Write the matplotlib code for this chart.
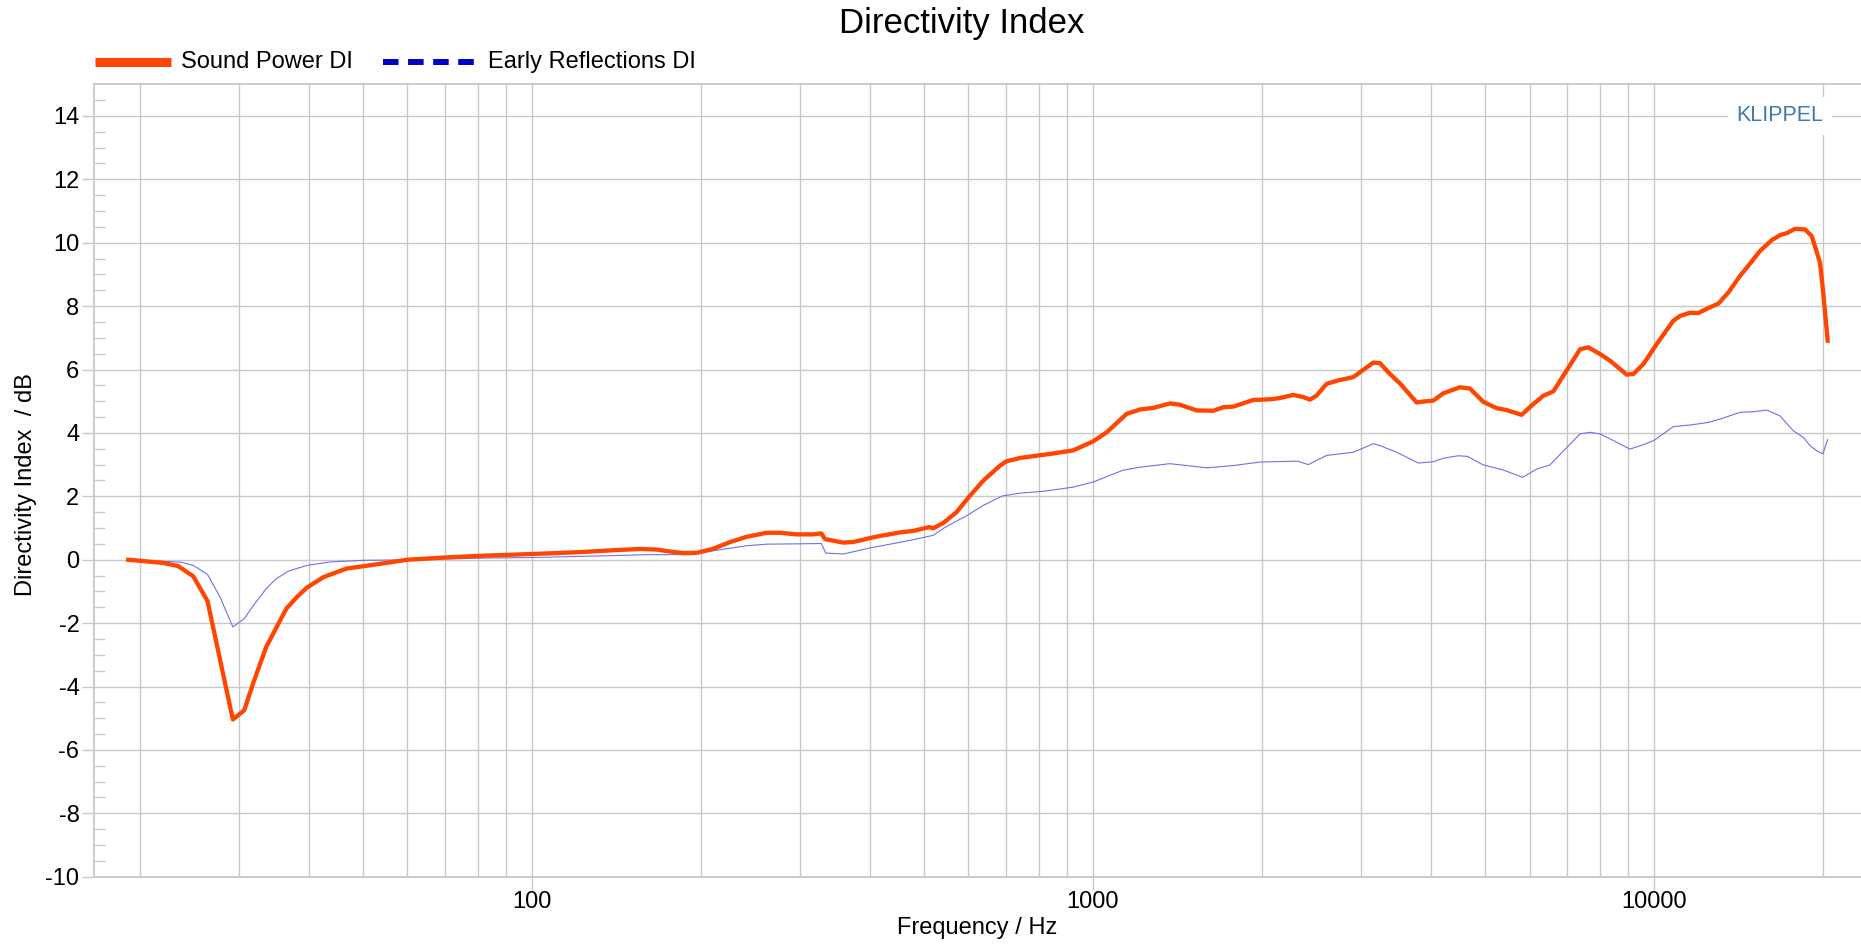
import matplotlib
matplotlib.use('Agg')
import matplotlib.pyplot as plt
from matplotlib.lines import Line2D
from matplotlib.ticker import FixedLocator, NullFormatter

plt.rcParams['font.family'] = ['Liberation Sans', 'DejaVu Sans']
plt.rcParams['axes.unicode_minus'] = False

# Sound Power DI
sp_freq = [19.07, 22.0, 23.4, 24.9, 26.4, 29.3, 30.7, 31.9, 33.6, 36.5, 38.1, 39.7, 42.5, 46.7,
           53.6, 60, 70, 80, 100, 122, 140, 156, 167, 176, 186, 197, 210, 225, 241, 262, 277,
           296, 317, 328, 333, 359, 374, 400, 417, 453, 478, 511, 519, 541, 571, 603, 638, 683,
           700, 741, 800, 849, 922, 1000, 1058, 1148, 1213, 1281, 1372, 1429, 1530, 1639, 1707,
           1779, 1931, 2068, 2154, 2275, 2371, 2437, 2504, 2609, 2756, 2911, 3033, 3161, 3248,
           3383, 3526, 3776, 3880, 4043, 4211, 4510, 4699, 4964, 5244, 5463, 5808, 6093, 6349,
           6615, 6890, 7383, 7638, 8012, 8349, 8940, 9190, 9573, 10110, 10827, 11125, 11593,
           11995, 12500, 13025, 13570, 14230, 14725, 15450, 16210, 16770, 17240, 17840, 18590,
           19110, 19770, 20040, 20400]
sp_db = [0.0, -0.1, -0.2, -0.52, -1.30, -5.04, -4.75, -3.86, -2.75, -1.54, -1.18, -0.88, -0.55, -0.28,
         -0.13, 0.0, 0.07, 0.12, 0.18, 0.24, 0.30, 0.34, 0.32, 0.26, 0.21, 0.22, 0.34, 0.55, 0.72, 0.85, 0.85,
         0.80, 0.80, 0.83, 0.65, 0.54, 0.56, 0.68, 0.75, 0.86, 0.91, 1.03, 0.99, 1.16, 1.50, 2.01, 2.50, 2.97,
         3.10, 3.21, 3.29, 3.35, 3.45, 3.73, 4.02, 4.60, 4.74, 4.79, 4.93, 4.89, 4.71, 4.70, 4.81,
         4.83, 5.04, 5.06, 5.10, 5.20, 5.13, 5.05, 5.18, 5.55, 5.67, 5.76, 5.99, 6.22, 6.20,
         5.86, 5.56, 4.96, 4.99, 5.02, 5.25, 5.44, 5.40, 4.98, 4.78, 4.72, 4.57, 4.91, 5.17,
         5.31, 5.80, 6.64, 6.70, 6.49, 6.28, 5.84, 5.86, 6.17, 6.80, 7.54, 7.69, 7.79,
         7.78, 7.94, 8.08, 8.43, 8.95, 9.27, 9.74, 10.08, 10.24, 10.30, 10.44, 10.42,
         10.21, 9.37, 8.38, 6.91]

# Early Reflections DI
er_freq = [19.07, 22.0, 23.7, 24.9, 26.4, 27.8, 29.3, 30.7, 31.9, 33.6, 35.0, 36.8, 39.7, 43.7,
           49.9, 61.4, 80.8, 100, 140, 160, 193, 210, 241, 262, 328, 334, 359, 400, 453, 478,
           519, 546, 597, 637, 689, 741, 817, 922, 1000, 1130, 1213, 1372, 1595, 1779, 1980,
           2317, 2420, 2609, 2911, 3161, 3248, 3478, 3802, 4043, 4211, 4479, 4650, 4964, 5388,
           5834, 6180, 6525, 7000, 7383, 7690, 8012, 8463, 9062, 9573, 10000, 10827, 11593,
           12500, 13290, 14230, 15030, 15880, 16770, 17710, 18460, 18970, 19500, 20000, 20400]
er_db = [-0.05, -0.05, -0.08, -0.18, -0.46, -1.18, -2.12, -1.86, -1.44, -0.91, -0.60, -0.36, -0.18, -0.07,
         -0.02, 0.0, 0.05, 0.07, 0.13, 0.16, 0.16, 0.28, 0.44, 0.49, 0.51, 0.21, 0.18, 0.37, 0.55, 0.63,
         0.77, 1.03, 1.40, 1.71, 2.01, 2.10, 2.16, 2.29, 2.45, 2.82, 2.92, 3.03, 2.90, 2.97, 3.08,
         3.11, 3.00, 3.29, 3.39, 3.66, 3.60, 3.39, 3.05, 3.09, 3.20, 3.28, 3.26, 2.99, 2.83,
         2.60, 2.86, 2.99, 3.55, 3.97, 4.02, 3.97, 3.76, 3.49, 3.63, 3.76, 4.20, 4.25,
         4.33, 4.47, 4.65, 4.67, 4.72, 4.54, 4.07, 3.86, 3.60, 3.44, 3.34, 3.79]

major_x = [100, 1000, 10000]
minor_x = [20, 30, 40, 50, 60, 70, 80, 90, 200, 300, 400, 500, 600, 700, 800, 900,
           2000, 3000, 4000, 5000, 6000, 7000, 8000, 9000, 20000]
y_ticks = list(range(-10, 15, 2))

grid_c = '#c8c8c8'
red = '#ff4500'

fig = plt.figure(figsize=(18.61, 9.52), dpi=100)
ax = fig.add_axes([0.0505, 0.0791, 0.9495, 0.8324])

ax.plot(er_freq, er_db, color='#7070e8', lw=0.8, zorder=3)
ax.plot(sp_freq, sp_db, color=red, lw=3.1, solid_joinstyle='round', zorder=4)

ax.set_xscale('log')
ax.set_xlim(16.57, 23390)
ax.set_ylim(-10, 15)

ax.xaxis.set_major_locator(FixedLocator(major_x))
ax.set_xticklabels([str(v) for v in major_x])
ax.xaxis.set_minor_locator(FixedLocator(minor_x))
ax.xaxis.set_minor_formatter(NullFormatter())
ax.set_yticks(y_ticks)
ax.yaxis.set_minor_locator(FixedLocator([v / 2 for v in range(-19, 30) if v % 4 != 0]))

ax.grid(True, which='major', color=grid_c, lw=1.0, zorder=0)
ax.grid(True, which='minor', axis='x', color=grid_c, lw=1.0, zorder=0)
ax.set_axisbelow(True)

ax.tick_params(axis='both', which='major', labelsize=17, length=9, width=1.0,
               color=grid_c, direction='out', pad=1.5)
ax.tick_params(axis='x', which='minor', length=0)
ax.tick_params(axis='y', which='minor', length=8, width=1.0, color=grid_c, direction='in')

for side in ['left', 'top', 'bottom']:
    ax.spines[side].set_color(grid_c)
    ax.spines[side].set_linewidth(1.3)
ax.spines['right'].set_visible(False)

ax.set_xlabel('Frequency / Hz', fontsize=17, labelpad=3)
ax.set_ylabel('Directivity Index  / dB', fontsize=17, va='center')
ax.yaxis.set_label_coords(-0.0385, 0.495)

ax.text(16770, 14, 'KLIPPEL', color='#3c7dab', fontsize=15.5, ha='center', va='center',
        bbox=dict(facecolor='white', edgecolor='none', pad=6), zorder=2)

fig.text(962 / 1861, 1 - 24 / 952, 'Directivity Index', fontsize=25, ha='center', va='center')

# legend drawn in figure pixels
W, H = 1861.0, 952.0
ly = 1 - 62 / H
fig.add_artist(Line2D([95 / W, 171 / W], [ly, ly], color=red, lw=6.5,
                      solid_capstyle='butt', transform=fig.transFigure))
fig.text(181 / W, ly, 'Sound Power DI', fontsize=17, va='center')
fig.add_artist(Line2D([383 / W, 475 / W], [ly, ly], color='#0000cc', lw=4.3,
                      dashes=(2.6, 1.6), dash_capstyle='butt', transform=fig.transFigure))
fig.text(488 / W, ly, 'Early Reflections DI', fontsize=17, va='center')

fig.savefig('out.png', dpi=100)
